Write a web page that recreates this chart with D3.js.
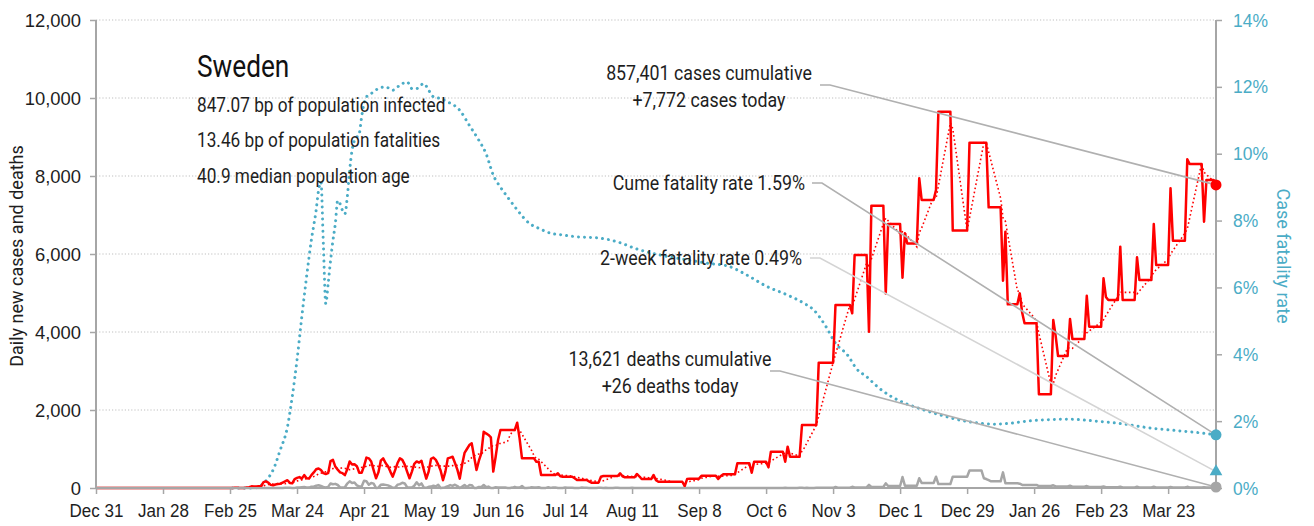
<!DOCTYPE html>
<html>
<head>
<meta charset="utf-8">
<script src="https://cdn.jsdelivr.net/npm/d3@7"></script>
<style>
  html, body { margin: 0; padding: 0; background: #fff; }
  svg { display: block; font-family: Roboto, "Liberation Sans", sans-serif; }
</style>
</head>
<body>
<svg id="chart" width="1314" height="526"></svg>
<script>
// ---- data -------------------------------------------------------------
const country = "Sweden";
const statLines = [
  "847.07 bp of population infected",
  "13.46 bp of population fatalities",
  "40.9 median population age"
];
const startDate = "2019-12-31";
const endDate = "2021-04-12";
const tickDates = [
  "2019-12-31", "2020-01-28", "2020-02-25", "2020-03-24", "2020-04-21",
  "2020-05-19", "2020-06-16", "2020-07-14", "2020-08-11", "2020-09-08",
  "2020-10-06", "2020-11-03", "2020-12-01", "2020-12-29", "2021-01-26",
  "2021-02-23", "2021-03-23"
];
const leftTicks = [0, 2000, 4000, 6000, 8000, 10000, 12000];
const rightTicks = [0, 0.02, 0.04, 0.06, 0.08, 0.10, 0.12, 0.14];

// daily new cases, one row per week (Tue..Mon), starting 2019-12-31
const casesDaily = [
  0,0,0,0,0,0,0,  0,0,0,0,0,0,0,  0,0,0,0,0,0,0,  0,0,0,0,0,0,0,
  0,0,0,1,0,0,0,  0,0,0,0,0,0,0,  0,0,0,0,0,0,0,  0,0,0,0,0,0,0,
  0,1,6,6,0,1,1,
  14,21,42,40,36,48,45,
  150,170,140,80,70,90,100,
  110,140,170,200,130,120,230,
  260,280,240,330,250,240,330,
  400,480,500,460,380,360,380,
  690,720,550,470,400,380,330,
  480,680,600,610,560,390,390,
  560,780,760,680,460,250,400,
  700,760,640,560,420,290,460,
  640,760,720,600,420,250,420,
  620,680,650,700,460,240,420,
  750,780,720,600,450,200,420,
  760,780,800,640,470,240,600,
  900,1000,1100,1145,800,460,700,
  890,1444,1400,1360,1300,420,800,
  1230,1487,1487,1487,1487,1487,1487,
  1487,1675,1273,760,760,760,760,
  760,760,675,675,333,333,333,
  333,333,333,333,376,300,290,
  290,290,290,290,250,205,205,
  205,205,205,170,137,137,137,
  137,290,308,308,308,308,308,
  308,308,376,300,273,273,273,
  273,273,360,300,230,230,230,
  230,230,333,200,160,160,160,
  160,160,160,160,160,160,160,
  160,50,230,240,240,240,240,
  240,316,316,316,316,316,316,
  316,230,300,350,350,350,350,
  350,350,632,632,632,632,632,
  632,393,675,675,675,675,675,
  675,530,930,930,930,930,930,
  930,675,1060,800,800,800,800,
  800,1615,1615,1615,1615,1615,1615,
  1615,3214,3214,3214,3214,3214,3214,
  3214,4692,4692,4692,4692,4692,4692,
  4692,4480,5975,5975,5975,5975,5975,
  5975,4008,7240,7240,7240,7240,7240,
  7240,4990,6770,6770,6770,6770,6770,
  6770,5390,6530,6270,6270,6270,6270,
  6270,7940,7385,7385,7385,7385,7385,
  7385,7640,9650,9650,9650,9650,9650,
  9650,6600,6600,6600,6600,6600,6600,
  6600,8855,8855,8855,8855,8855,8855,
  8855,8855,7196,7196,7196,7196,7196,
  7196,5316,6573,4709,4709,4709,4709,
  4709,4990,4500,4222,4222,4222,4222,
  4222,4222,2402,2402,2402,2402,2402,
  2402,4308,3900,3385,3385,3385,3385,
  3385,4333,3820,3820,3820,3820,3820,
  3820,4930,4137,4137,4137,4137,4137,
  4137,5376,4900,4820,4820,4820,4820,
  4820,6188,4820,4820,4820,4820,4820,
  4820,5915,5333,5333,5333,5333,5333,
  5333,6770,5718,5718,5718,5718,5718,
  5718,7684,6342,6342,6342,6342,6342,
  6342,8427,8308,8308,8308,8308,8308,
  8308,6830,7900,7900,7900,7900,7772
];

// daily new deaths, same layout
const deathsDaily = [
  0,0,0,0,0,0,0,  0,0,0,0,0,0,0,  0,0,0,0,0,0,0,  0,0,0,0,0,0,0,
  0,0,0,0,0,0,0,  0,0,0,0,0,0,0,  0,0,0,0,0,0,0,  0,0,0,0,0,0,0,
  0,0,0,0,0,0,0,  0,0,0,0,0,0,0,
  0,1,0,0,1,0,2,
  2,3,4,6,4,3,3,
  11,15,20,26,12,10,34,
  34,59,69,50,28,15,29,
  114,96,106,77,17,12,20,
  114,170,130,142,67,40,39,
  185,172,84,131,111,2,9,
  81,90,80,67,40,5,10,
  85,99,135,117,20,13,10,
  57,147,69,117,12,5,31,
  36,60,40,84,2,4,20,
  44,75,53,84,50,0,36,
  77,20,74,73,1,0,25,
  23,78,19,36,0,0,18,
  15,10,13,11,0,0,11,
  30,11,13,50,0,0,4,
  22,16,10,18,0,0,3,
  21,3,13,11,0,0,2,
  12,8,6,5,0,0,3,
  10,6,4,3,0,0,2,
  6,5,3,4,0,0,1,
  5,4,3,2,0,0,1,
  4,3,2,3,0,0,1,
  3,2,2,2,0,0,1,
  2,2,1,2,0,0,0,
  2,1,2,1,0,0,0,
  2,1,1,2,0,0,0,
  1,2,1,1,0,0,0,
  2,1,2,1,0,0,0,
  2,3,2,1,0,0,0,
  2,3,2,3,0,0,1,
  3,4,2,3,0,0,1,
  4,5,3,4,0,0,2,
  5,8,6,5,4,4,4,
  4,25,8,8,8,8,8,
  8,30,15,15,15,15,15,
  15,80,25,25,25,25,25,
  25,120,50,50,50,50,50,
  50,280,60,60,60,60,60,
  60,250,130,130,130,130,130,
  130,290,100,100,100,100,100,
  100,290,290,290,290,290,290,
  290,450,450,450,450,450,450,
  250,230,200,170,170,170,170,
  170,400,120,120,120,120,120,
  120,110,80,80,80,80,80,
  80,80,50,50,50,50,50,
  50,70,40,40,40,40,40,
  40,60,35,35,35,35,35,
  35,50,25,25,25,25,25,
  25,40,20,20,20,20,20,
  20,35,15,15,15,15,15,
  15,30,15,15,15,15,15,
  15,30,15,15,15,15,15,
  15,25,12,12,12,12,12,
  12,30,15,15,15,15,15,
  15,20,15,15,15,15,26
];

// cumulative case fatality rate, percent
const cfrDates = [
  "2020-02-26","2020-03-06","2020-03-10","2020-03-12","2020-03-14","2020-03-17",
  "2020-03-20","2020-03-22","2020-03-24","2020-03-26","2020-03-28","2020-03-30",
  "2020-04-01","2020-04-02","2020-04-03","2020-04-04","2020-04-05","2020-04-06",
  "2020-04-07","2020-04-08","2020-04-09","2020-04-10","2020-04-11","2020-04-12",
  "2020-04-13","2020-04-14","2020-04-15","2020-04-16","2020-04-17","2020-04-18",
  "2020-04-19","2020-04-20","2020-04-21","2020-04-22","2020-04-24","2020-04-27",
  "2020-04-30","2020-05-03","2020-05-06","2020-05-09","2020-05-11","2020-05-13",
  "2020-05-16","2020-05-18","2020-05-20","2020-05-23","2020-05-26","2020-05-31",
  "2020-06-04","2020-06-08","2020-06-11","2020-06-14","2020-06-17","2020-06-20",
  "2020-06-24","2020-06-29","2020-07-03","2020-07-08","2020-07-13","2020-07-18",
  "2020-07-28","2020-08-05","2020-08-13","2020-08-22","2020-08-31","2020-09-12",
  "2020-09-20","2020-09-28","2020-10-06","2020-10-15","2020-10-22","2020-10-26",
  "2020-10-31","2020-11-04","2020-11-09","2020-11-13","2020-11-17","2020-11-22",
  "2020-11-27","2020-12-01","2020-12-09","2020-12-18","2020-12-26","2021-01-03",
  "2021-01-09","2021-01-15","2021-01-23","2021-02-03","2021-02-09","2021-02-21",
  "2021-03-04","2021-03-15","2021-03-26","2021-04-04","2021-04-12"
];
const cfrPct = [
  0, 0, 0.14, 0.3, 0.54, 1.14,
  1.83, 2.73, 3.83, 5.12, 6.32, 7.42,
  8.32, 8.9, 9.15, 7.3, 5.52, 6.1,
  6.8, 7.4, 7.9, 8.6, 8.5, 8.3,
  8.2, 8.7, 9.5, 10.1, 10.4, 10.5,
  10.6, 11.1, 11.5, 11.7, 11.8, 11.95,
  12.0, 11.9, 12.05, 12.15, 11.95, 11.95,
  12.1, 11.9, 11.7, 11.65, 11.55, 11.3,
  10.85, 10.4, 10.0, 9.36, 9.0, 8.7,
  8.32, 7.92, 7.77, 7.62, 7.57, 7.52,
  7.48, 7.36, 7.15, 6.98, 6.86, 6.72,
  6.64, 6.37, 6.04, 5.77, 5.52, 5.32,
  4.83, 4.33, 3.98, 3.55, 3.33, 3.0,
  2.75, 2.6, 2.38, 2.18, 2.03, 1.94,
  1.91, 1.93, 2.0, 2.05, 2.06, 2.0,
  1.92, 1.8, 1.72, 1.66, 1.59
];

const cumulativeCases = 857401;
const cumulativeDeaths = 13621;
const twoWeekFatalityRate = 0.0049;

// ---- layout -----------------------------------------------------------
const plot = { left: 96, right: 1216, top: 20, bottom: 488 };
const colors = {
  cases: "#ff0000",
  cfr: "#4bacc6",
  deaths: "#a6a6a6",
  axis: "#a6a6a6",
  grid: "#bfbfbf",
  text: "#1e1e1e",
  leader: "#b0b0b0",
  leaderLight: "#d4d4d4"
};

// narrow the text horizontally (the face has no condensed cut installed)
function condense(sel, k) {
  sel.each(function () {
    const t = d3.select(this);
    const x0 = +t.attr("x") || 0;
    const tr = t.attr("transform") || "";
    t.attr("x", x0 / k).attr("transform", `${tr} scale(${k},1)`.trim());
  });
}

const parse = d3.utcParse("%Y-%m-%d");
const t0 = parse(startDate);
const dayDate = i => d3.utcDay.offset(t0, i);

const x = d3.scaleUtc().domain([t0, parse(endDate)]).range([plot.left, plot.right]);
const yL = d3.scaleLinear().domain([0, 12000]).range([plot.bottom, plot.top]);
const yR = d3.scaleLinear().domain([0, 0.14]).range([plot.bottom, plot.top]);

const svg = d3.select("#chart");

// gridlines
svg.append("g")
  .selectAll("line")
  .data(leftTicks.filter(v => v > 0))
  .join("line")
  .attr("x1", plot.left).attr("x2", plot.right)
  .attr("y1", d => yL(d)).attr("y2", d => yL(d))
  .attr("stroke", colors.grid).attr("stroke-width", 1)
  .attr("stroke-dasharray", "1.2,2");

// series
const cases = casesDaily.map((v, i) => ({ date: dayDate(i), v }));
const deaths = deathsDaily.map((v, i) => ({ date: dayDate(i), v }));
const avg7 = casesDaily.map((v, i) => ({
  date: dayDate(i),
  v: d3.mean(casesDaily.slice(Math.max(0, i - 6), i + 1))
}));
const cfr = cfrDates.map((d, i) => ({ date: parse(d), v: cfrPct[i] / 100 }));

const lineL = d3.line().x(d => x(d.date)).y(d => yL(d.v));
const lineR = d3.line().x(d => x(d.date)).y(d => yR(d.v)).curve(d3.curveMonotoneX);

svg.append("path").datum(cfr)
  .attr("d", lineR).attr("fill", "none")
  .attr("stroke", colors.cfr).attr("stroke-width", 3)
  .attr("stroke-linecap", "round")
  .attr("stroke-dasharray", "0.01,6");

svg.append("path").datum(deaths)
  .attr("d", lineL).attr("fill", "none")
  .attr("stroke", colors.deaths).attr("stroke-width", 2.5)
  .attr("stroke-linejoin", "round");

svg.append("path").datum(avg7)
  .attr("d", lineL).attr("fill", "none")
  .attr("stroke", colors.cases).attr("stroke-width", 1.6)
  .attr("stroke-dasharray", "1.6,2.6");

svg.append("path").datum(cases)
  .attr("d", lineL).attr("fill", "none")
  .attr("stroke", colors.cases).attr("stroke-width", 2.5)
  .attr("stroke-linejoin", "round");

// axes
const gLeft = svg.append("g").attr("transform", `translate(${plot.left},0)`)
  .call(d3.axisLeft(yL).tickValues(leftTicks).tickSize(6).tickPadding(9)
    .tickFormat(d3.format(",")));
const gRight = svg.append("g").attr("transform", `translate(${plot.right},0)`)
  .call(d3.axisRight(yR).tickValues(rightTicks).tickSize(6).tickPadding(11)
    .tickFormat(d3.format(".0%")));
const gBottom = svg.append("g").attr("transform", `translate(0,${plot.bottom})`)
  .call(d3.axisBottom(x).tickValues(tickDates.map(parse)).tickSize(6).tickPadding(10)
    .tickFormat(d3.utcFormat("%b %-d")));

[gLeft, gRight, gBottom].forEach(g => {
  g.select(".domain").attr("stroke", colors.axis).attr("stroke-width", 2);
  g.selectAll(".tick line").attr("stroke", colors.axis).attr("stroke-width", 1.5);
  g.selectAll(".tick text").attr("font-family", null).attr("font-size", 19).attr("fill", colors.text);
});
gLeft.select(".domain").attr("d", `M0,${plot.bottom}V${plot.top}`);
gRight.select(".domain").attr("d", `M0,${plot.bottom}V${plot.top}`);
gBottom.select(".domain").attr("d", `M${plot.left},0H${plot.right}`);
gRight.selectAll(".tick text").attr("fill", colors.cfr);
gBottom.selectAll(".tick text").attr("font-size", 18.5);
condense(gLeft.selectAll(".tick text"), 0.97);
condense(gRight.selectAll(".tick text"), 0.92);
condense(gBottom.selectAll(".tick text"), 0.92);

// axis titles
svg.append("text")
  .attr("transform", `translate(23,${(plot.top + plot.bottom) / 2 + 2}) rotate(-90)`)
  .attr("text-anchor", "middle").attr("font-size", 18).attr("fill", colors.text)
  .text("Daily new cases and deaths");
svg.append("text")
  .attr("transform", `translate(1277,${(plot.top + plot.bottom) / 2 + 2}) rotate(90)`)
  .attr("text-anchor", "middle").attr("font-size", 18).attr("fill", colors.cfr)
  .text("Case fatality rate");

// title block
condense(svg.append("text").attr("x", 197).attr("y", 77)
  .attr("font-size", 30.5).attr("fill", "#111").text(country), 0.86);
condense(svg.append("g").selectAll("text").data(statLines).join("text")
  .attr("x", 197).attr("y", (d, i) => 112 + i * 35.5)
  .attr("font-size", 21).attr("fill", colors.text).text(d => d), 0.82);

// end-of-series markers
const last = casesDaily.length - 1;
const lastDate = dayDate(last);
const cumeRate = cumulativeDeaths / cumulativeCases;
const endX = x(lastDate);
const markCases = [endX, yL(casesDaily[last])];
const markCfr = [endX, yR(cfrPct[cfrPct.length - 1] / 100)];
const markTwoWeek = [endX, yR(twoWeekFatalityRate)];
const markDeaths = [endX, yL(deathsDaily[last])];

// annotation labels with leader lines
const fmtInt = d3.format(",");
const fmtPct = d3.format(".2%");
const notes = [
  { lines: [`${fmtInt(cumulativeCases)} cases cumulative`, `+${fmtInt(casesDaily[last])} cases today`],
    anchor: "middle", tx: 709, ty: 80, from: [820, 85], to: markCases, color: colors.leader },
  { lines: [`Cume fatality rate ${fmtPct(cumeRate)}`],
    anchor: "end", tx: 805, ty: 190, from: [812, 183], to: markCfr, color: colors.leader },
  { lines: [`2-week fatality rate ${fmtPct(twoWeekFatalityRate)}`],
    anchor: "end", tx: 802, ty: 265, from: [810, 258], to: markTwoWeek, color: colors.leaderLight },
  { lines: [`${fmtInt(cumulativeDeaths)} deaths cumulative`, `+${fmtInt(deathsDaily[last])} deaths today`],
    anchor: "middle", tx: 670, ty: 366, from: [770, 371], to: markDeaths, color: colors.leader }
];

notes.forEach(n => {
  svg.append("path")
    .attr("d", `M${n.from[0]},${n.from[1]}H${n.from[0] + 10}L${n.to[0]},${n.to[1]}`)
    .attr("fill", "none").attr("stroke", n.color).attr("stroke-width", 1.6);
  n.lines.forEach((s, i) => {
    condense(svg.append("text").attr("x", n.tx).attr("y", n.ty + i * 27)
      .attr("text-anchor", n.anchor).attr("font-size", 20).attr("fill", colors.text)
      .text(s), 0.89);
  });
});

svg.append("circle").attr("cx", markCases[0]).attr("cy", markCases[1]).attr("r", 5.5).attr("fill", colors.cases);
svg.append("circle").attr("cx", markCfr[0]).attr("cy", markCfr[1]).attr("r", 5.5).attr("fill", colors.cfr);
svg.append("path").attr("transform", `translate(${markTwoWeek[0]},${markTwoWeek[1]})`)
  .attr("d", d3.symbol(d3.symbolTriangle, 70)()).attr("fill", colors.cfr);
svg.append("circle").attr("cx", markDeaths[0]).attr("cy", markDeaths[1]).attr("r", 5.5).attr("fill", colors.deaths);
</script>
</body>
</html>
